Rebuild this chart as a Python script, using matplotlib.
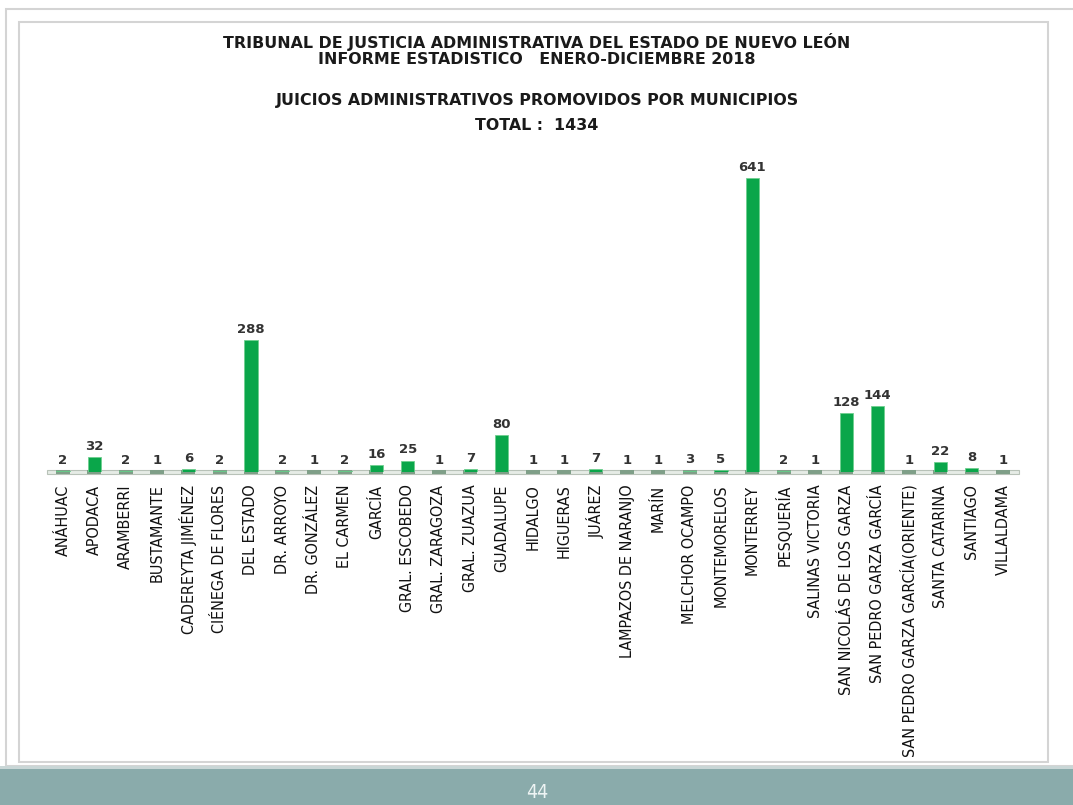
import matplotlib
matplotlib.use("Agg")
import matplotlib.pyplot as plt
from matplotlib.patches import Rectangle
import matplotlib.transforms as mtransforms

categories = ["ANÁHUAC", "APODACA", "ARAMBERRI", "BUSTAMANTE", "CADEREYTA JIMÉNEZ",
              "CIÉNEGA DE FLORES", "DEL ESTADO", "DR. ARROYO", "DR. GONZÁLEZ", "EL CARMEN",
              "GARCÍA", "GRAL. ESCOBEDO", "GRAL. ZARAGOZA", "GRAL. ZUAZUA", "GUADALUPE",
              "HIDALGO", "HIGUERAS", "JUÁREZ", "LAMPAZOS DE NARANJO", "MARÍN",
              "MELCHOR OCAMPO", "MONTEMORELOS", "MONTERREY", "PESQUERÍA", "SALINAS VICTORIA",
              "SAN NICOLÁS DE LOS GARZA", "SAN PEDRO GARZA GARCÍA", "SAN PEDRO GARZA GARCÍA(ORIENTE)",
              "SANTA CATARINA", "SANTIAGO", "VILLALDAMA"]
values = [2, 32, 2, 1, 6, 2, 288, 2, 1, 2, 16, 25, 1, 7, 80,
          1, 1, 7, 1, 1, 3, 5, 641, 2, 1, 128, 144, 1, 22, 8, 1]
title_lines = ["TRIBUNAL DE JUSTICIA ADMINISTRATIVA DEL ESTADO DE NUEVO LEÓN",
               "INFORME ESTADISTICO   ENERO-DICIEMBRE 2018",
               "JUICIOS ADMINISTRATIVOS PROMOVIDOS POR MUNICIPIOS",
               "TOTAL :  1434"]
page_number = "44"

W, H = 1073, 805
fig = plt.figure(figsize=(W / 100, H / 100), dpi=100)
fig.patch.set_facecolor("white")

def px(x, y):
    return x / W, 1 - y / H

# outer frames
fig.add_artist(Rectangle(px(6, 766), 1.2, (766 - 9) / H, transform=fig.transFigure,
                         fill=False, edgecolor="#d4d4d4", linewidth=1.5))
fig.add_artist(Rectangle(px(19, 762), (1048 - 19) / W, (762 - 22) / H, transform=fig.transFigure,
                         fill=False, edgecolor="#d4d4d4", linewidth=1.5))
# footer band
fig.add_artist(Rectangle((0, 0), 1, (805 - 769) / H, transform=fig.transFigure,
                         facecolor="#8aabab", edgecolor="none"))
fig.add_artist(Rectangle((0, (805 - 769) / H), 1, 3 / H, transform=fig.transFigure,
                         facecolor="#c9d6d6", edgecolor="none"))
fig.text(537 / W, 1 - 792 / H, page_number, ha="center", va="center", color="#eef4f4",
         fontsize=14, family="DejaVu Sans", fontstretch="condensed")

# titles
ys = [42, 60, 101, 125]
for t, y in zip(title_lines, ys):
    fig.text(537 / W, 1 - y / H, t, ha="center", va="center", fontsize=11.4,
             fontweight="bold", color="#1a1a1a", family="DejaVu Sans")

# axes
left, right = 47.3, 1018.7
base, top = 472, 151
ax = fig.add_axes([left / W, 1 - base / H, (right - left) / W, (base - top) / H])
ax.set_xlim(-0.5, len(categories) - 0.5)
ax.set_ylim(0, 700)
for s in ax.spines.values():
    s.set_visible(False)
ax.set_yticks([])
ax.patch.set_alpha(0)

# floor band
trans = mtransforms.blended_transform_factory(ax.transAxes, ax.transData)
ax.add_patch(Rectangle((0, -4.5), 1, 8, transform=trans, facecolor="#e6ece6",
                       edgecolor="#b8c2b8", linewidth=0.8, zorder=1, clip_on=False))

x = list(range(len(categories)))
# small marks on the floor for every category
ax.bar(x, [7] * len(x), bottom=-3.5, width=0.45, color="#7f9f88",
       linewidth=0, zorder=3, clip_on=False)
ax.bar(x, values, width=0.42, color="#0aa64a", edgecolor="#6fcf8f", linewidth=0.6, zorder=4)
for xi, v in zip(x, values):
    ax.text(xi, v + 9, str(v), ha="center", va="bottom", fontsize=9.5, fontweight="bold",
            color="#333333", family="DejaVu Sans")

ax.set_xticks(x)
ax.set_xticklabels(categories, rotation=90, fontsize=11.5, family="DejaVu Sans",
                   fontstretch="condensed", color="#111111")
ax.tick_params(axis="x", length=0, pad=9)

fig.savefig("out.png", dpi=100, facecolor="white")
